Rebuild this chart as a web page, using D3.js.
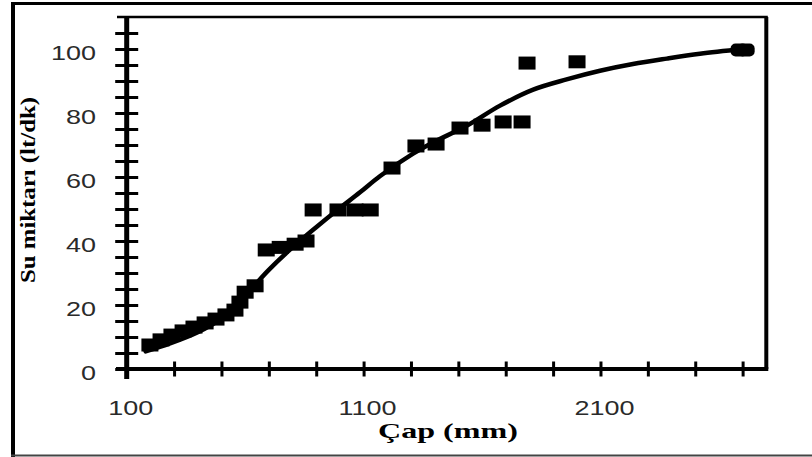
<!DOCTYPE html>
<html>
<head>
<meta charset="utf-8">
<script src="https://cdn.jsdelivr.net/npm/d3@7"></script>
<style>
  html, body { margin: 0; padding: 0; background: #ffffff; }
  svg { display: block; }
</style>
</head>
<body>
<svg id="chart" width="812" height="457"></svg>
<script>
// ---- data ----
const pointX = [198, 245, 291, 338, 384, 431, 477, 519, 557, 578, 600, 642,
                689, 748, 811, 857, 887, 992, 1064, 1128, 1220, 1321, 1406,
                1507, 1600, 1689, 1769, 1790, 2001, 2685, 2715];
const pointY = [7.5, 9.1, 10.6, 11.9, 13.1, 14.4, 15.6, 16.9, 18.4, 20.9, 24, 26,
                37.2, 38, 39, 40, 49.7, 49.7, 49.7, 49.7, 62.8, 69.7, 70.3,
                75.3, 76.2, 77.2, 77.2, 95.6, 96, 99.7, 99.7];
const fitX = [180, 283, 400, 494, 600, 700, 800, 900, 988, 1085, 1170, 1309, 1393,
              1535, 1676, 1816, 1957, 2098, 2237, 2380, 2520, 2700];
const fitY = [5.5, 8, 11.5, 15.5, 23, 31, 38, 44.3, 49.6, 55.2, 60.3, 67.3, 70.8,
              76, 82.3, 87.3, 90.5, 93.2, 95.3, 97, 98.5, 100];
const xTicks = [100, 300, 500, 700, 900, 1100, 1300, 1500, 1700, 1900, 2100, 2300, 2500, 2700];
const xTickLabels = [100, 1100, 2100];
const yTicks = [0, 5, 10, 15, 20, 25, 30, 35, 40, 45, 50, 55, 60, 65, 70, 75, 80, 85, 90, 95, 100, 105];
const yTickLabels = [0, 20, 40, 60, 80, 100];
const xTitle = "Çap (mm)";
const yTitle = "Su miktarı (lt/dk)";

// ---- drawing ----
const svg = d3.select("#chart");
const x = d3.scaleLinear().domain([100, 2800]).range([126.7, 766.3]);
const y = d3.scaleLinear().domain([0, 110]).range([369, 17]);

// outer frame
svg.append("line").attr("x1", 13).attr("x2", 13).attr("y1", 2).attr("y2", 457)
  .attr("stroke", "#000").attr("stroke-width", 4);
svg.append("line").attr("x1", 11).attr("x2", 812).attr("y1", 3.5).attr("y2", 3.5)
  .attr("stroke", "#000").attr("stroke-width", 3);
svg.append("line").attr("x1", 11).attr("x2", 812).attr("y1", 455.5).attr("y2", 455.5)
  .attr("stroke", "#444").attr("stroke-width", 2);

// plot box top and right
svg.append("line").attr("x1", 117).attr("x2", x(2800) + 1.5).attr("y1", y(110)).attr("y2", y(110))
  .attr("stroke", "#000").attr("stroke-width", 2.5);
svg.append("line").attr("x1", x(2800)).attr("x2", x(2800)).attr("y1", y(110)).attr("y2", y(0))
  .attr("stroke", "#000").attr("stroke-width", 4);

// x axis (ticks cross the line)
const gx = svg.append("g").attr("transform", `translate(0,${y(0)})`)
  .call(d3.axisBottom(x).tickValues(xTicks).tickSize(7.5).tickSizeOuter(0).tickFormat(""));
gx.select(".domain").remove();
gx.selectAll(".tick line").attr("y1", -7.5).attr("y2", 7.5)
  .attr("stroke", "#000").attr("stroke-width", 3);
svg.append("line").attr("x1", 116).attr("x2", x(2800) + 2).attr("y1", y(0)).attr("y2", y(0))
  .attr("stroke", "#000").attr("stroke-width", 4);

// y axis
const gy = svg.append("g").attr("transform", `translate(${x(100)},0)`)
  .call(d3.axisLeft(y).tickValues(yTicks).tickSize(11.5).tickSizeOuter(0).tickFormat(""));
gy.select(".domain").remove();
gy.selectAll(".tick line").attr("x1", -11.5).attr("x2", 11.5)
  .attr("stroke", "#000").attr("stroke-width", 3);
svg.append("line").attr("x1", x(100)).attr("x2", x(100)).attr("y1", y(110) - 1).attr("y2", y(0) + 10)
  .attr("stroke", "#000").attr("stroke-width", 5);

// tick labels
svg.selectAll("text.xl").data(xTickLabels).join("text")
  .attr("class", "xl")
  .attr("transform", d => `translate(${x(d) + 4},415) scale(1.35,1)`)
  .attr("text-anchor", "middle")
  .attr("font-family", "Liberation Sans, Arial, sans-serif")
  .attr("font-size", 20).attr("fill", "#2a2a2a")
  .text(d => d);
svg.selectAll("text.yl").data(yTickLabels).join("text")
  .attr("class", "yl")
  .attr("transform", d => `translate(96,${y(d) + 11}) scale(1.35,1)`)
  .attr("text-anchor", "end")
  .attr("font-family", "Liberation Sans, Arial, sans-serif")
  .attr("font-size", 20).attr("fill", "#2a2a2a")
  .text(d => d);

// axis titles
svg.append("text")
  .attr("x", 448).attr("y", 438)
  .attr("text-anchor", "middle")
  .attr("font-family", "Liberation Serif, 'Times New Roman', serif")
  .attr("font-weight", "bold").attr("font-size", 21)
  .attr("textLength", 140).attr("lengthAdjust", "spacingAndGlyphs")
  .text(xTitle);
svg.append("text")
  .attr("transform", "translate(35,190) rotate(-90)")
  .attr("text-anchor", "middle")
  .attr("font-family", "Liberation Serif, 'Times New Roman', serif")
  .attr("font-weight", "bold").attr("font-size", 20)
  .attr("textLength", 186).attr("lengthAdjust", "spacingAndGlyphs")
  .text(yTitle);

// fitted curve
const fit = fitX.map((v, i) => [v, fitY[i]]);
svg.append("path")
  .datum(fit)
  .attr("fill", "none").attr("stroke", "#000").attr("stroke-width", 4.5)
  .attr("stroke-linecap", "round")
  .attr("d", d3.line().x(d => x(d[0])).y(d => y(d[1])).curve(d3.curveCatmullRom.alpha(0.5)));

// points (squares)
const pts = pointX.map((v, i) => [v, pointY[i]]);
svg.selectAll("rect.pt").data(pts).join("rect")
  .attr("class", "pt")
  .attr("x", d => x(d[0]) - 8.5).attr("y", d => y(d[1]) - 6.5)
  .attr("width", 17).attr("height", 13)
  .attr("rx", (d, i) => i >= pts.length - 2 ? 5 : 0)
  .attr("fill", "#000");
</script>
</body>
</html>
